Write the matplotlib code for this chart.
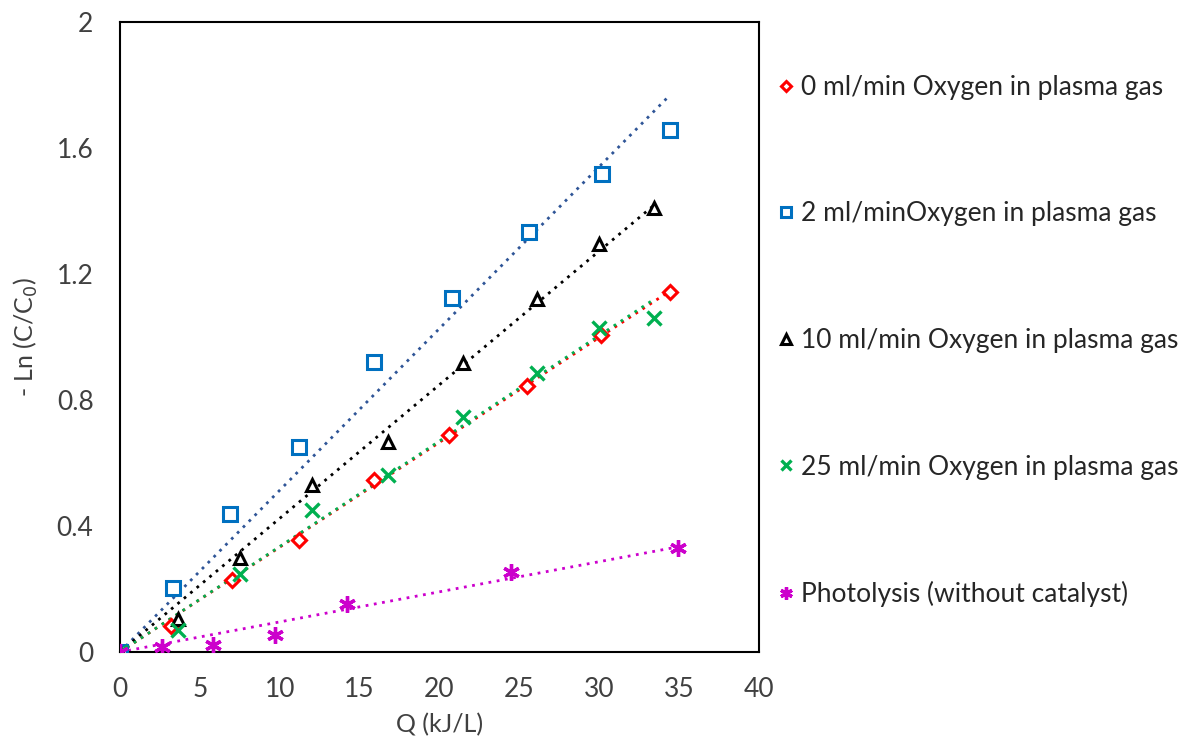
import numpy as np
import matplotlib.pyplot as plt

plt.rcParams['font.family'] = ['Lato', 'DejaVu Sans']

# data
q_0 = [0, 3.2, 7.0, 11.2, 15.9, 20.6, 25.5, 30.1, 34.4]
ln_0 = [0, 0.083, 0.23, 0.355, 0.546, 0.69, 0.845, 1.006, 1.143]

q_2 = [0, 3.3, 6.9, 11.2, 15.9, 20.8, 25.6, 30.2, 34.4]
ln_2 = [0, 0.203, 0.438, 0.65, 0.92, 1.124, 1.333, 1.517, 1.657]

q_10 = [0, 3.6, 7.5, 12.0, 16.8, 21.5, 26.1, 30.0, 33.4]
ln_10 = [0, 0.105, 0.298, 0.53, 0.667, 0.917, 1.12, 1.295, 1.41]

q_25 = [0, 3.6, 7.5, 12.0, 16.8, 21.5, 26.1, 30.0, 33.4]
ln_25 = [0, 0.07, 0.248, 0.45, 0.562, 0.746, 0.886, 1.029, 1.06]

q_ph = [0, 2.6, 5.8, 9.7, 14.2, 24.5, 34.9]
ln_ph = [0, 0.016, 0.022, 0.054, 0.152, 0.254, 0.33]

labels = ['0 ml/min Oxygen in plasma gas',
          '2 ml/minOxygen in plasma gas',
          '10 ml/min Oxygen in plasma gas',
          '25 ml/min Oxygen in plasma gas',
          'Photolysis (without catalyst)']

series = [
    (q_0, ln_0, 'D', '#FF0000', '#FF0000', 7),
    (q_2, ln_2, 's', '#0070C0', '#2F5597', 10),
    (q_10, ln_10, '^', '#000000', '#000000', 9),
    (q_25, ln_25, 'x', '#00B050', '#00B050', 10),
    (q_ph, ln_ph, (6, 2, 0), '#CC00CC', '#CC00CC', 12),
]

fig = plt.figure(figsize=(11.81, 7.4), dpi=100)
ax = fig.add_axes([0.1016, 0.1189, 0.5411, 0.8514])

handles = []
for (x, y, mk, col, lcol, ms), lab in zip(series, labels):
    x = np.array(x)
    y = np.array(y)
    # linear trend forced through origin (Excel style)
    k = np.sum(x * y) / np.sum(x * x)
    xs = np.array([0, x.max()])
    ax.plot(xs, k * xs, linestyle=(0, (1, 2)), color=lcol, linewidth=2, zorder=2)
    if mk in ('x', (6, 2, 0)):
        h, = ax.plot(x, y, linestyle='none', marker=mk, markersize=ms,
                     color=col, markeredgewidth=2.4, zorder=3)
    else:
        h, = ax.plot(x, y, linestyle='none', marker=mk, markersize=ms,
                     markerfacecolor='white', markeredgecolor=col,
                     markeredgewidth=2.2, zorder=3)
    handles.append(h)

ax.set_xlim(0, 40)
ax.set_ylim(0, 2)
ax.set_xticks(np.arange(0, 41, 5))
ax.set_yticks([0, 0.4, 0.8, 1.2, 1.6, 2])
ax.set_yticklabels(['0', '0.4', '0.8', '1.2', '1.6', '2'])
ax.tick_params(axis='y', length=0, labelsize=19, colors='#404040', pad=19)
ax.tick_params(axis='x', length=0, labelsize=19, colors='#404040', pad=18)
for sp in ax.spines.values():
    sp.set_linewidth(1.5)
    sp.set_color('black')

ax.set_xlabel('Q (kJ/L)', fontsize=18, color='#404040', labelpad=8)
ax.set_ylabel('- Ln (C/C$_0$)', fontsize=18, color='#404040', labelpad=12)

fig.legend(handles, labels, loc='upper left', bbox_to_anchor=(0.6388, 0.931),
           frameon=False, fontsize=19, labelspacing=3.85, handlelength=0.6,
           handletextpad=0.27, markerscale=0.75, labelcolor='#262626')

fig.savefig('out.png', dpi=100)
